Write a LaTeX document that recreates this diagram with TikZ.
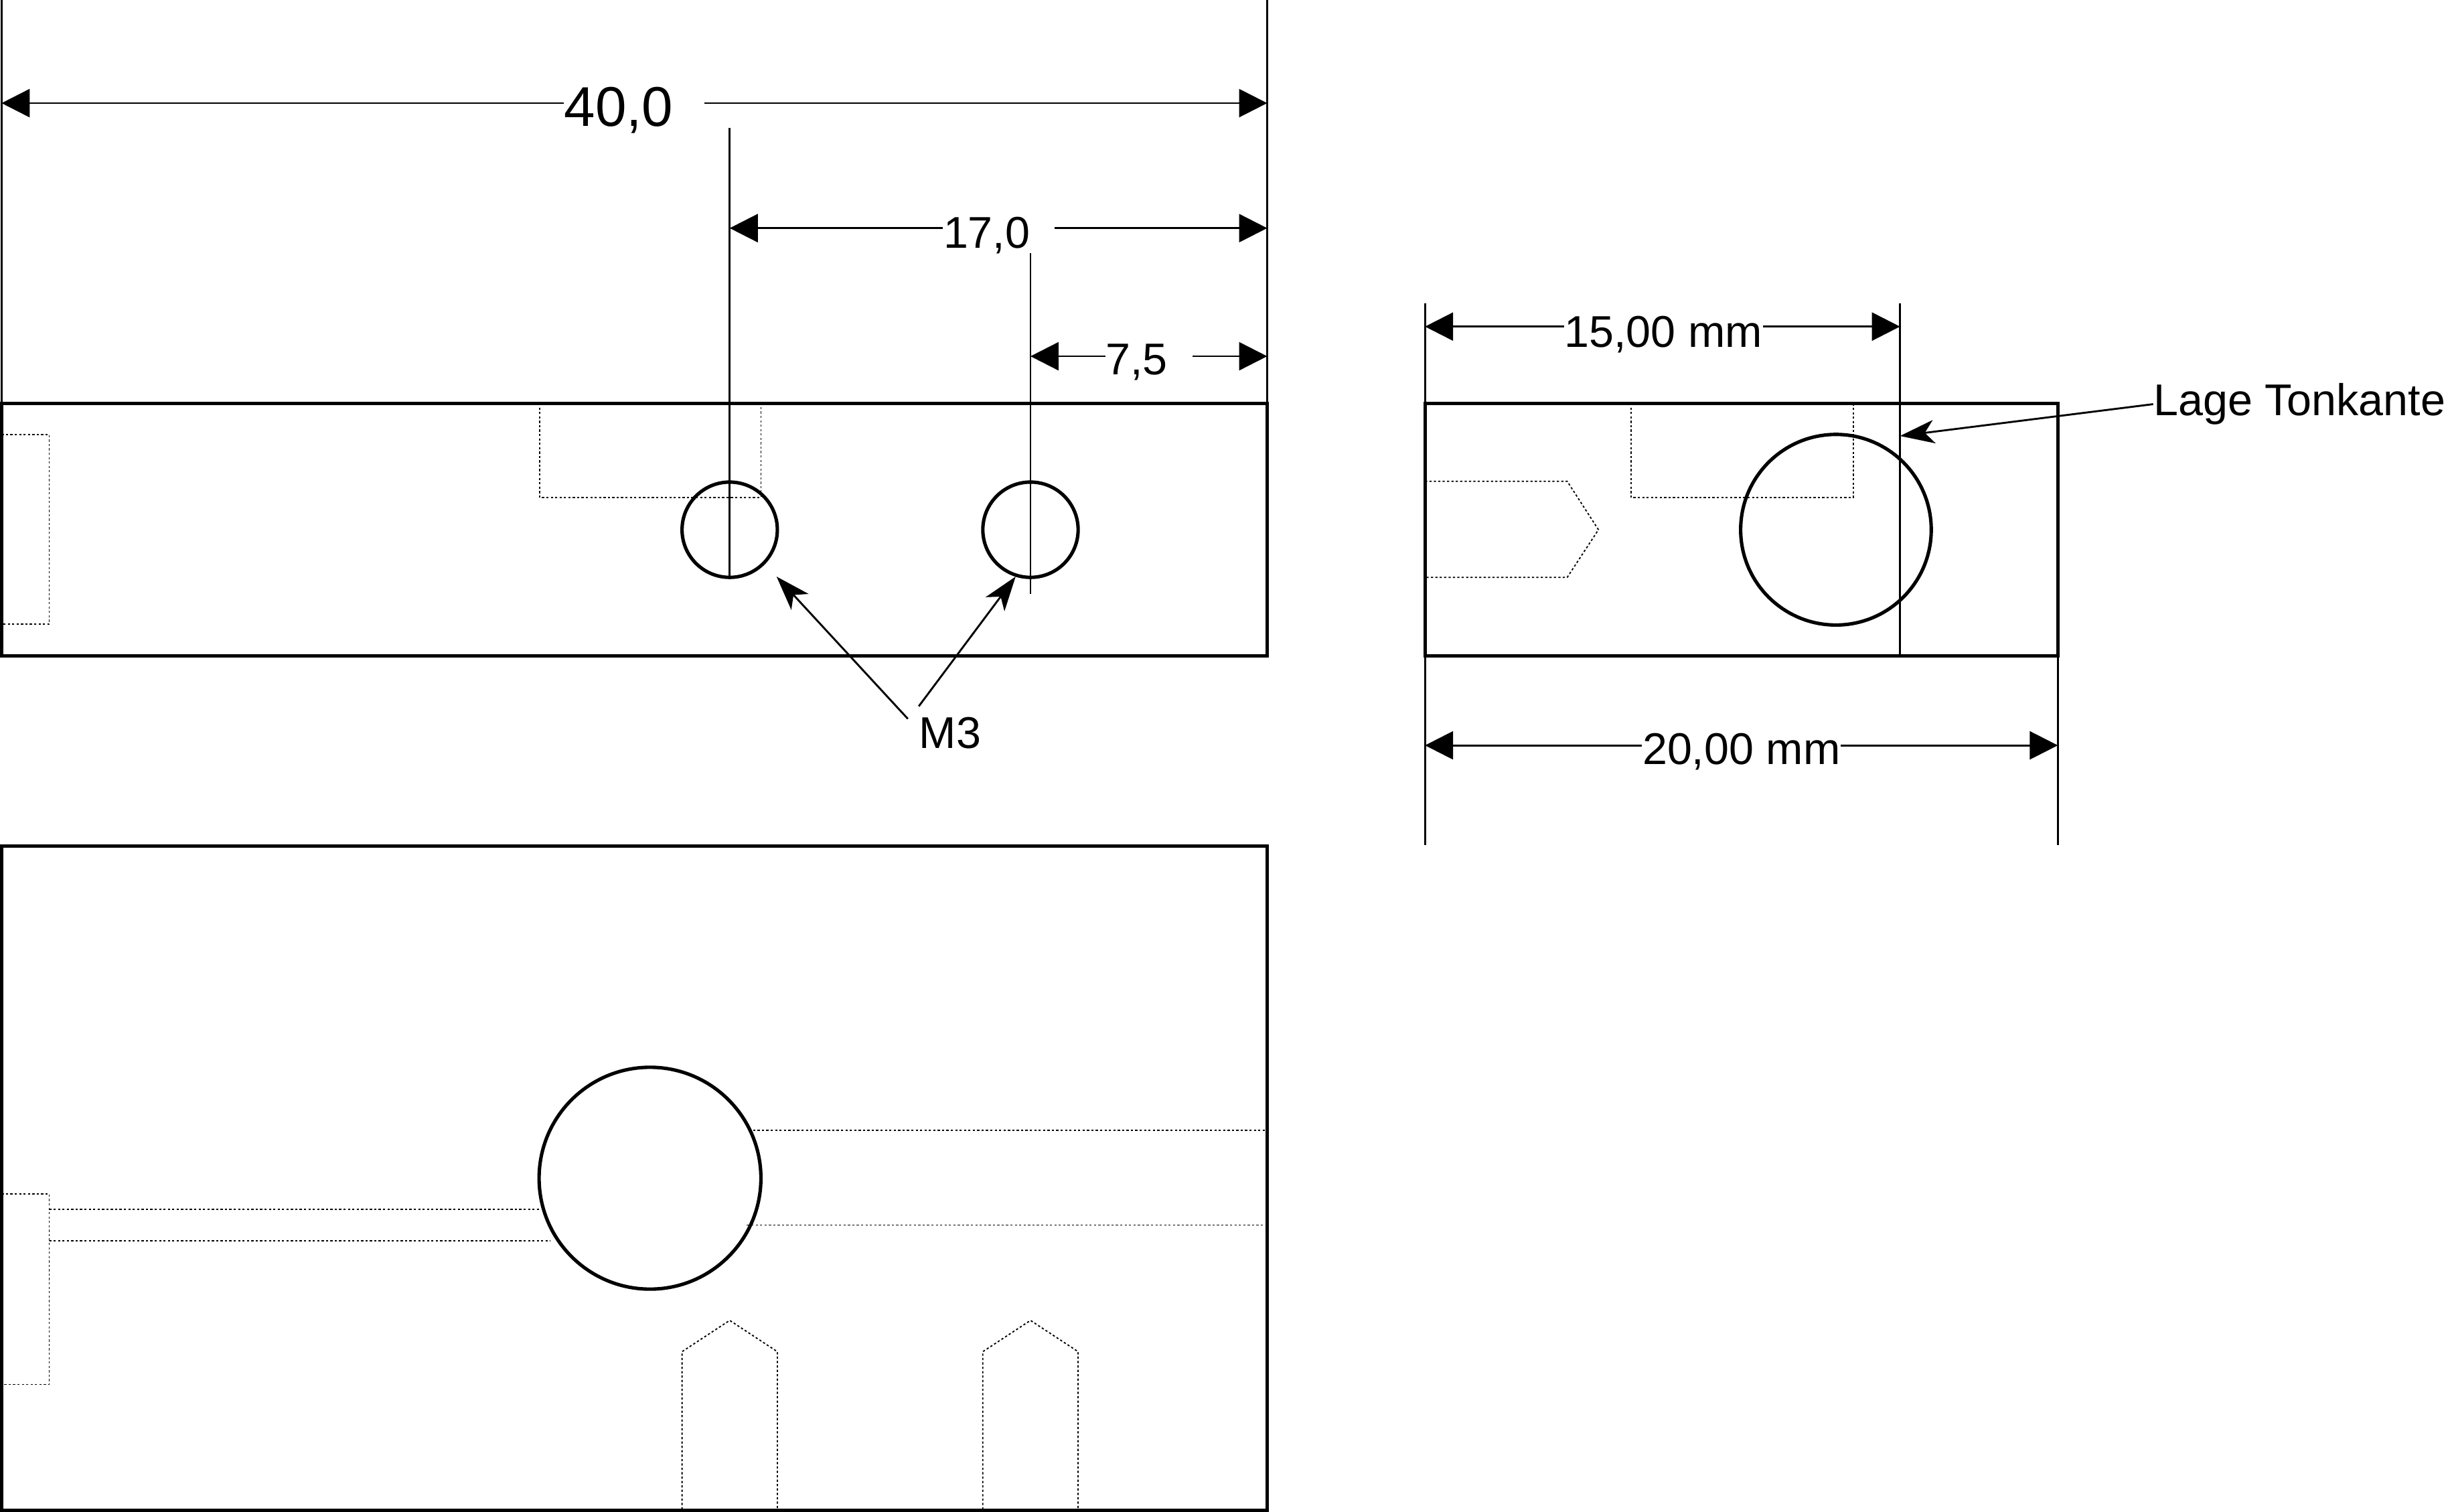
\documentclass[tikz,border=0pt]{standalone}
\usepackage{fontspec}
\setmainfont{Liberation Sans}
\usetikzlibrary{arrows.meta}

\tikzset{
	outline/.style={line width=1.25pt},
	thinline/.style={line width=0.7pt},
	hidden/.style={line width=0.45pt,dash pattern=on 0.8pt off 0.8pt},
	dimline/.style={thinline,{Triangle[length=0.36cm,width=0.36cm]}-},
	leader/.style={thinline,-{Stealth[length=0.44cm,width=0.3cm,inset=0.12cm]}},
	hole/.style={draw,circle,outline,inner sep=0pt,outer sep=0pt,minimum size=#1},
	dimtext/.style={anchor=base,inner sep=0pt,font=\fontsize{16.2pt}{18pt}\selectfont},
	bigtext/.style={anchor=base,inner sep=0pt,font=\fontsize{20.4pt}{23pt}\selectfont}
}

\begin{document}
\begin{tikzpicture}[x=0.02cm,y=-0.02cm]
	\useasboundingbox (0,0) rectangle (1568,967.6);

	% side view
	\draw[outline] (1,258) rectangle (811,419.8);
	\node[hole=1.22cm] (holeleft) at (467,339) {};
	\node[hole=1.22cm] (holeright) at (659.5,339) {};
	\draw[hidden] (1,278)--(31.5,278)--(31.5,399.5)--(1,399.5);
	\draw[hidden] (345.5,258)--(345.5,318.5)--(487,318.5)--(487,258);

	\coordinate (sidetopL) at (1,0);
	\coordinate (sidetopR) at (811,0);
	\coordinate (sidebaseL) at (1,258);
	\coordinate (sidebaseR) at (811,258);
	\coordinate (leftextT) at (467,82);
	\coordinate (leftextB) at (467,369);
	\coordinate (rightextT) at (659.5,162);
	\coordinate (rightextB) at (659.5,380);
	\draw[thinline] (sidetopL)--(sidebaseL);
	\draw[thinline] (sidetopR)--(sidebaseR);
	\draw[thinline] (leftextT)--(leftextB);
	\draw[thinline] (rightextT)--(rightextB);

	\coordinate (totalL) at (1,66);
	\coordinate (totalR) at (811,66);
	\coordinate (totalgap) at (451,66);
	\node[bigtext] (totallabel) at (396,80.6) {40,0};
	\draw[dimline] (totalL)--(totalL -| totallabel.west);
	\draw[dimline] (totalR)--(totalgap);

	\coordinate (midL) at (467,146);
	\coordinate (midR) at (811,146);
	\coordinate (midgap) at (675,146);
	\node[dimtext] (midlabel) at (631.5,158.6) {17,0};
	\draw[dimline] (midL)--(midL -| midlabel.west);
	\draw[dimline] (midR)--(midgap);

	\coordinate (shortL) at (659.5,228);
	\coordinate (shortR) at (811,228);
	\coordinate (shortgap) at (763,228);
	\node[dimtext] (shortlabel) at (727.5,239.6) {7,5};
	\draw[dimline] (shortL)--(shortL -| shortlabel.west);
	\draw[dimline] (shortR)--(shortgap);

	\node[dimtext] (threadlabel) at (608,479) {M3};
	\coordinate (threadA) at (581,460);
	\coordinate (threadB) at (588,452);
	\coordinate (tipA) at (497,369);
	\coordinate (tipB) at (650,369);
	\draw[leader] (threadA)--(tipA);
	\draw[leader] (threadB)--(tipB);

	% end view
	\draw[outline] (912,258) rectangle (1317,419.8);
	\node[hole=2.44cm] (bore) at (1175,339) {};
	\draw[hidden] (912,308)--(1003,308)--(1023,339)--(1003,369.5)--(912,369.5);
	\draw[hidden] (1044,258)--(1044,318.5)--(1186,318.5)--(1186,258);

	\coordinate (endtopL) at (912,194);
	\coordinate (endbaseL) at (912,258);
	\coordinate (edgeT) at (1216,194);
	\coordinate (edgeB) at (1216,419.5);
	\coordinate (endlowL) at (912,419.5);
	\coordinate (endfootL) at (912,541);
	\coordinate (endlowR) at (1317,419.5);
	\coordinate (endfootR) at (1317,541);
	\draw[thinline] (endtopL)--(endbaseL);
	\draw[thinline] (edgeT)--(edgeB);
	\draw[thinline] (endlowL)--(endfootL);
	\draw[thinline] (endlowR)--(endfootR);

	\coordinate (edgedimL) at (912,209);
	\coordinate (edgedimR) at (1216,209);
	\node[dimtext] (edgelabel) at (1064.5,222) {15,00 mm};
	\draw[dimline] (edgedimL)--(edgedimL -| edgelabel.west);
	\draw[dimline] (edgedimR)--(edgedimR -| edgelabel.east);

	\coordinate (widthL) at (912,477);
	\coordinate (widthR) at (1317,477);
	\node[dimtext] (widthlabel) at (1114.5,489) {20,00 mm};
	\draw[dimline] (widthL)--(widthL -| widthlabel.west);
	\draw[dimline] (widthR)--(widthR -| widthlabel.east);

	\node[dimtext,anchor=base west] (tonkante) at (1378,266) {Lage Tonkante};
	\coordinate (tonkantetip) at (1216,279);
	\draw[leader] (tonkante.west)--(tonkantetip);

	% top view
	\draw[outline] (1,541.5) rectangle (811,966.6);
	\node[hole=2.84cm] (borebig) at (416,754) {};
	\draw[hidden] (1,764)--(31.5,764)--(31.5,886)--(1,886);
	\draw[hidden] (31.5,774)--(345,774);
	\draw[hidden] (31.5,794)--(352,794);
	\draw[hidden] (482,723.5)--(811,723.5);
	\draw[hidden] (478,784)--(811,784);
	\foreach \xpos in {467,659.5}
		\draw[hidden] ({\xpos-30.5},966)--({\xpos-30.5},865)--(\xpos,845)--({\xpos+30.5},865)--({\xpos+30.5},966);
\end{tikzpicture}
\end{document}
